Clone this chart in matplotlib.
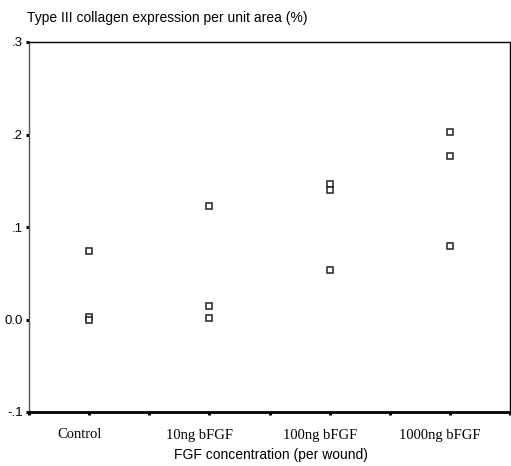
#!/usr/bin/env python3
# -*- coding: utf-8 -*-

import matplotlib
matplotlib.use("Agg")
import matplotlib.pyplot as plt
import matplotlib.transforms as mtransforms

# Groups and their x positions on the category axis
groups = ["Control", "10ng bFGF", "100ng bFGF", "1000ng bFGF"]
group_pos = [1, 3, 5, 7]

# Type III collagen expression per unit area
control = [0.074, 0.003, 0.000]
fgf_10 = [0.123, 0.015, 0.002]
fgf_100 = [0.146, 0.140, 0.053]
fgf_1000 = [0.203, 0.177, 0.080]

y_ticks = [-0.1, 0.0, 0.1, 0.2, 0.3]
y_tick_labels = ["-.1", "0.0", ".1", ".2", ".3"]

W, H = 511, 466
fig = plt.figure(figsize=(W / 100, H / 100), dpi=100)
ax = fig.add_axes([29 / W, (H - 412) / H, (510 - 29) / W, (412 - 42) / H])

for x, vals in zip(group_pos, [control, fgf_10, fgf_100, fgf_1000]):
    ax.plot([x] * len(vals), vals, linestyle="none", marker="s", markersize=4.5,
            markerfacecolor="white", markeredgecolor="#222222", markeredgewidth=1.1)

ax.set_xlim(0, 8)
ax.set_ylim(-0.1, 0.3)

ax.set_xticks(range(0, 9))
ax.set_xticklabels([])
# group labels sit a little left of their ticks in the original
lbl_tr = mtransforms.blended_transform_factory(ax.transData, ax.transAxes) + \
    mtransforms.ScaledTranslation(-10 / 100, -23 / 100, fig.dpi_scale_trans)
for x, name in zip(group_pos, groups):
    ax.text(x, 0, name, transform=lbl_tr, ha="center", va="center",
            family="Liberation Serif", fontsize=10.5)

ax.set_yticks(y_ticks)
ax.set_yticklabels(y_tick_labels, family="Liberation Sans", fontsize=9.5)

ax.tick_params(axis="x", direction="out", length=2.5, width=2.2, colors="black")
ax.tick_params(axis="y", direction="out", length=2, width=2.2, pad=2.5, colors="black")

ax.spines["bottom"].set_linewidth(2)
ax.spines["left"].set_linewidth(1)
ax.spines["left"].set_color("#555555")
ax.spines["top"].set_linewidth(1)
ax.spines["right"].set_linewidth(1)

fig.text(27 / W, 1 - 18 / H, "Type III collagen expression per unit area (%)",
         family="Liberation Sans", fontsize=10, va="center", ha="left")
fig.text(271 / W, 1 - 455 / H, "FGF concentration (per wound)",
         family="Liberation Sans", fontsize=10, va="center", ha="center")

fig.savefig("out.png", dpi=100)
